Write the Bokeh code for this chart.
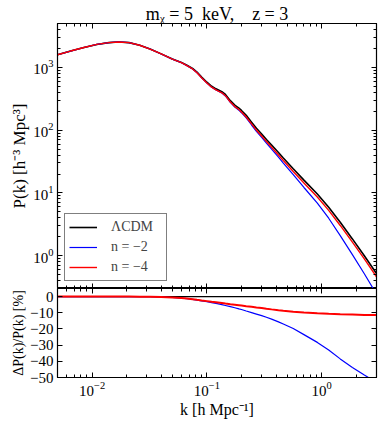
from bokeh.plotting import figure
from bokeh.models import (Range1d, LogAxis, LinearAxis, FixedTicker, LogTicker,
                          Legend, LegendItem, CustomJSTickFormatter, Title)
from bokeh.layouts import column
from bokeh.embed import file_html
from bokeh.resources import INLINE

# ---------------- data ----------------
k = [0.005, 0.0065, 0.0085, 0.011, 0.014, 0.017, 0.021, 0.026, 0.032, 0.04,
     0.05, 0.06, 0.067, 0.075, 0.082, 0.09, 0.1, 0.11, 0.12, 0.135,
     0.145, 0.16, 0.175, 0.19, 0.2, 0.22, 0.245, 0.27, 0.3, 0.33,
     0.366, 0.42, 0.463, 0.565, 0.7, 0.916, 1.15, 1.45, 1.85, 2.35, 3.0]

p_lcdm = [1590, 1820, 2070, 2320, 2480, 2540, 2480, 2250, 1960, 1640,
          1360, 1200, 1080, 960, 840, 700, 580, 500, 455, 410,
          370, 295, 250, 225, 206, 172, 134, 107, 87, 71,
          58, 44, 36, 24.3, 16.0, 9.6, 5.9, 3.4, 1.85, 1.0, 0.52]

p_n2 = [1590, 1820, 2070, 2320, 2480, 2540, 2480, 2249, 1958, 1635,
        1353, 1189, 1066, 944, 822, 682, 562, 481, 436, 390,
        350, 277, 233, 208, 189.5, 156.7, 120.7, 95.4, 76.7, 61.9,
        49.9, 37.1, 29.9, 19.5, 12.2, 6.9, 3.95, 2.09, 1.04, 0.515, 0.244]

p_n4 = [1590, 1820, 2070, 2320, 2480, 2540, 2480, 2249, 1958, 1635,
        1353, 1189, 1067, 945, 823, 683, 564, 484, 439, 394,
        354, 281, 237.5, 213, 194.7, 161.9, 125.6, 99.8, 80.8, 65.7,
        53.4, 40.3, 32.9, 22.0, 14.4, 8.6, 5.27, 3.03, 1.64, 0.887, 0.461]

dp_lcdm = [0] * len(k)

dp_n2 = [0, 0, 0, 0, 0, 0, 0, -0.05, -0.1, -0.3,
         -0.55, -0.95, -1.25, -1.7, -2.2, -2.6, -3.1, -3.7, -4.2, -5.0,
         -5.5, -6.2, -6.9, -7.6, -8.0, -8.9, -9.9, -10.8, -11.8, -12.8,
         -13.9, -15.6, -16.9, -19.7, -23.5, -28.3, -33.0, -38.5, -43.8, -48.5, -53.0]

dp_n4 = [0, 0, 0, 0, 0, 0, 0, -0.05, -0.1, -0.3,
         -0.55, -0.9, -1.2, -1.6, -2.0, -2.4, -2.8, -3.2, -3.5, -4.0,
         -4.3, -4.7, -5.0, -5.3, -5.5, -5.9, -6.3, -6.7, -7.1, -7.5,
         -7.9, -8.4, -8.7, -9.3, -9.8, -10.3, -10.6, -10.9, -11.1, -11.3, -11.4]

series_labels = ["ΛCDM", "n = −2", "n = −4"]
dp_ticks = [-50, -40, -30, -20, -10, 0]
title_text = ("m\u1d6a\u00a0=\u00a05\u00a0\u00a0keV,\u00a0\u00a0\u00a0\u00a0"
              "z\u00a0=\u00a03")

FONT = "Liberation Serif"
W = 378
LEFT = 57
RIGHT = 2

blank_fmt = CustomJSTickFormatter(code="return '';")


def style_axis(ax, labels=True):
    ax.major_tick_in = 5
    ax.major_tick_out = 0
    ax.minor_tick_in = 3
    ax.minor_tick_out = 0
    ax.axis_line_color = "black"
    ax.major_tick_line_color = "black"
    ax.minor_tick_line_color = "black"
    ax.axis_label_text_font = FONT
    ax.axis_label_text_font_style = "normal"
    ax.axis_label_text_font_size = "16px"
    ax.axis_label_text_color = "black"
    ax.axis_label_standoff = 1
    if labels:
        ax.major_label_text_font = FONT
        ax.major_label_text_font_size = "15px"
        ax.major_label_text_color = "black"
        ax.major_label_standoff = 4
    else:
        ax.formatter = blank_fmt
        ax.major_label_text_font_size = "1px"
        ax.major_label_standoff = 0


# ---------------- top panel ----------------
top = figure(width=W, height=288, x_axis_type="log", y_axis_type="log",
             x_range=Range1d(0.005, 3), y_range=Range1d(0.3, 5000),
             output_backend="svg", toolbar_location=None,
             min_border_left=LEFT, min_border_right=RIGHT, min_border_top=23,
             min_border_bottom=0, background_fill_color="white",
             border_fill_color="white")
top.xgrid.visible = False
top.ygrid.visible = False
top.outline_line_color = "black"
top.outline_line_width = 1.2

top.yaxis.ticker = LogTicker(num_minor_ticks=10)
top.xaxis.ticker = LogTicker(num_minor_ticks=10)
style_axis(top.xaxis[0], labels=False)
style_axis(top.yaxis[0], labels=True)
top.yaxis.axis_label = "P(k) [h⁻³ Mpc³]"
top.yaxis.axis_label_text_font_size = "17px"

ax_r = LogAxis(ticker=LogTicker(num_minor_ticks=10))
style_axis(ax_r, labels=False)
top.add_layout(ax_r, "right")
ax_t = LogAxis(ticker=LogTicker(num_minor_ticks=10))
style_axis(ax_t, labels=False)
top.add_layout(ax_t, "above")

top.title = Title(text=title_text, align="center", text_font=FONT,
                  text_font_size="18px", text_font_style="normal",
                  text_color="black", standoff=0, offset=0)

r0 = top.line(k, p_lcdm, line_color="black", line_width=1.6)
r1 = top.line(k, p_n2, line_color="#0000ff", line_width=1.2)
r2 = top.line(k, p_n4, line_color="#ff0000", line_width=1.4)

legend = Legend(items=[LegendItem(label=series_labels[0], renderers=[r0]),
                       LegendItem(label=series_labels[1], renderers=[r1]),
                       LegendItem(label=series_labels[2], renderers=[r2])],
                location="bottom_left", margin=7, padding=4, spacing=2,
                glyph_width=28, glyph_height=18, label_height=18,
                label_standoff=14, label_width=51,
                label_text_font=FONT, label_text_font_size="14px",
                border_line_color="black", border_line_width=1.2,
                background_fill_color="white", background_fill_alpha=1)
top.add_layout(legend, "center")

# ---------------- bottom panel ----------------
bot = figure(width=W, height=135, x_axis_type="log",
             x_range=top.x_range, y_range=Range1d(-50, 5),
             output_backend="svg", toolbar_location=None,
             min_border_left=LEFT, min_border_right=RIGHT, min_border_top=0,
             min_border_bottom=46, background_fill_color="white",
             border_fill_color="white")
bot.xgrid.visible = False
bot.ygrid.visible = False
bot.outline_line_color = "black"
bot.outline_line_width = 1.2

bot.xaxis.ticker = LogTicker(num_minor_ticks=10)
style_axis(bot.xaxis[0], labels=True)
bot.xaxis.axis_label = "k [h Mpc⁻¹]"
bot.xaxis.axis_label_standoff = 2

bot.yaxis.ticker = FixedTicker(ticks=dp_ticks, minor_ticks=[])
bot.yaxis.formatter = CustomJSTickFormatter(
    code="return tick < 0 ? '\\u2212' + Math.abs(tick) : '' + tick;")
style_axis(bot.yaxis[0], labels=True)
bot.yaxis.axis_label = "ΔP(k)/P(k) [%]"
bot.yaxis.axis_label_text_font_size = "14px"

b_r = LinearAxis(ticker=FixedTicker(ticks=dp_ticks, minor_ticks=[]))
style_axis(b_r, labels=False)
bot.add_layout(b_r, "right")
b_t = LogAxis(ticker=LogTicker(num_minor_ticks=10))
style_axis(b_t, labels=False)
bot.add_layout(b_t, "above")

bot.line(k, dp_lcdm, line_color="black", line_width=1.2)
bot.line(k, dp_n2, line_color="#0000ff", line_width=1.2)
bot.line(k, dp_n4, line_color="#ff0000", line_width=2)

layout = column(top, bot, spacing=0)
open("out.html", "w").write(file_html(layout, INLINE))
